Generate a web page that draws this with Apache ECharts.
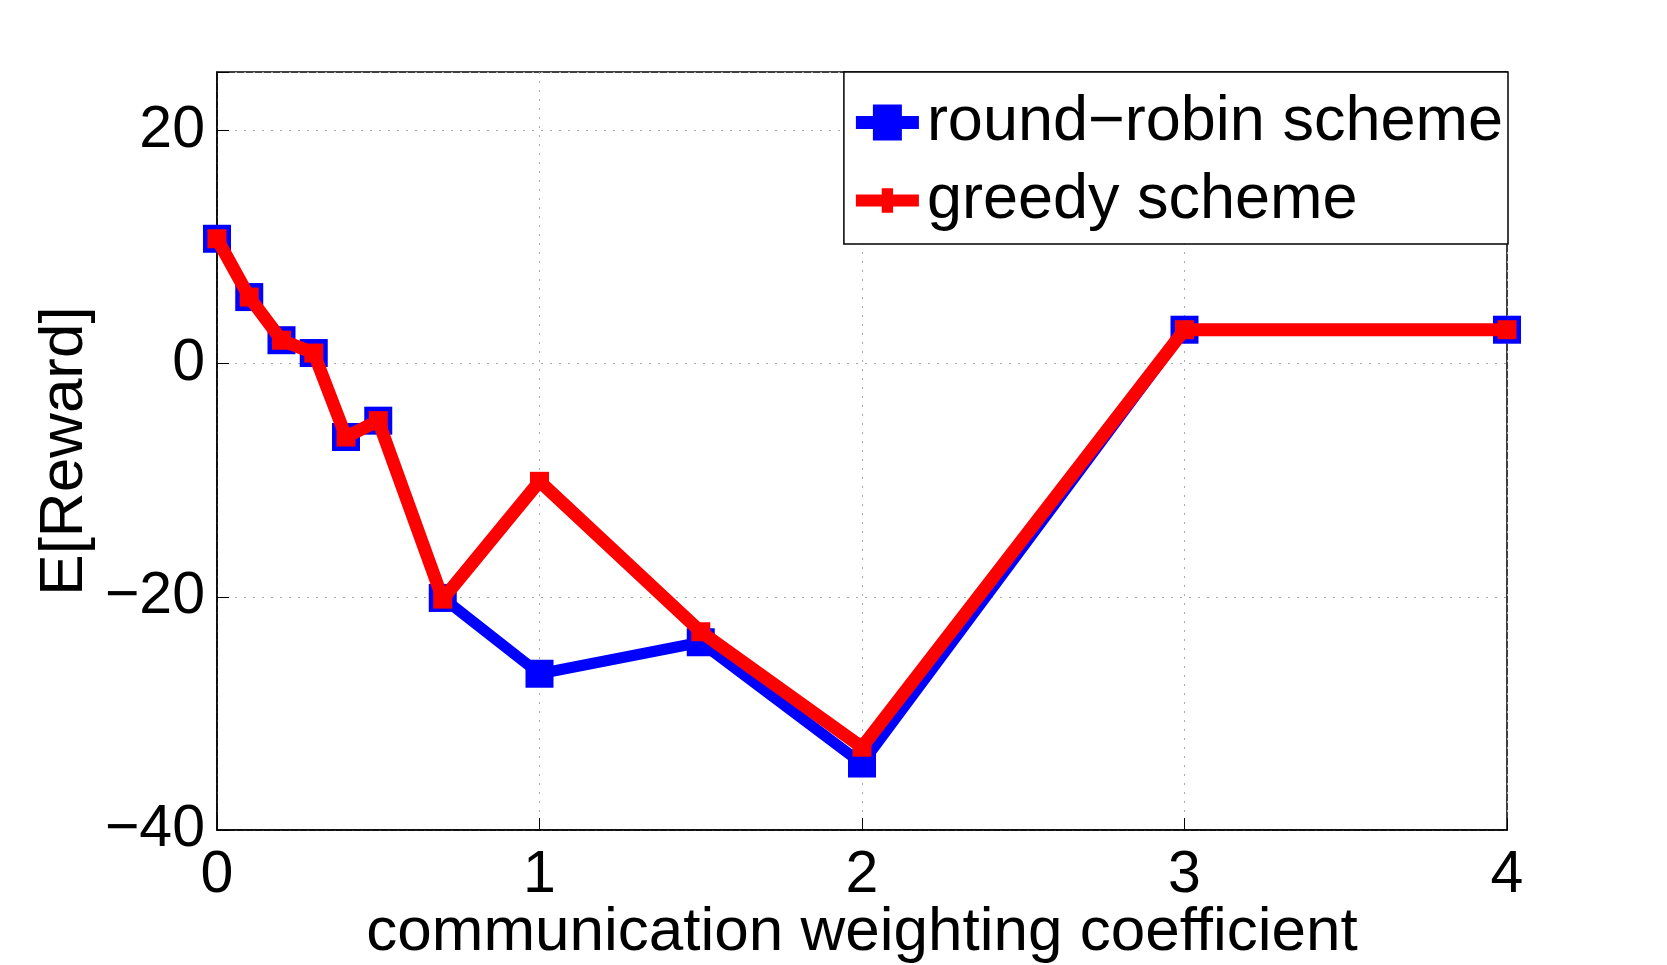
<!DOCTYPE html>
<html>
<head>
<meta charset="utf-8">
<script src="https://cdn.jsdelivr.net/npm/echarts@6/dist/echarts.min.js"></script>
<style>
  html, body { margin: 0; padding: 0; background: #fff; }
  #chart { width: 1667px; height: 965px; }
</style>
</head>
<body>
<div id="chart"></div>
<script>
// data
const xValues = [0, 0.1, 0.2, 0.3, 0.4, 0.5, 0.7, 1, 1.5, 2, 3, 4];
const roundRobin = [10.7, 5.7, 2.0, 0.9, -6.3, -4.9, -20.1, -26.6, -23.9, -34.3, 2.9, 2.9];
const greedy = [10.7, 5.7, 2.0, 0.9, -6.3, -4.9, -20.2, -10.1, -23.0, -32.9, 2.9, 2.9];
const seriesNames = ['round\u2212robin scheme', 'greedy scheme'];

const font = 'Liberation Sans, Arial, Helvetica, sans-serif';
const pair = (ys) => xValues.map((x, i) => [x, ys[i]]);
const minus = (v) => String(v).replace('-', '\u2212');

// legend icons: thick line with a square marker (the empty moves keep the box 0..100)
const blueIcon = 'path://M0,0 L0,0 M100,100 L100,100 M0,32 L27,32 L27,0 L73,0 L73,32 L100,32 L100,68 L73,68 L73,100 L27,100 L27,68 L0,68 Z';
const redIcon = 'path://M0,0 L0,0 M100,100 L100,100 M0,33 L41,33 L41,16 L59,16 L59,33 L100,33 L100,67 L59,67 L59,84 L41,84 L41,67 L0,67 Z';

const chart = echarts.init(document.getElementById('chart'));

const option = {
  animation: false,
  backgroundColor: '#fff',
  textStyle: { fontFamily: font },
  grid: {
    left: 217, right: 160, top: 72, bottom: 135,
    outerBoundsMode: 'none',
    show: true, borderColor: '#000', borderWidth: 1.5
  },
  legend: {
    orient: 'vertical',
    right: 159, top: 72,
    backgroundColor: '#fff',
    borderColor: '#000', borderWidth: 1.5, borderRadius: 0,
    padding: [19, 5, 12, 12],
    itemGap: 15,
    itemWidth: 63, itemHeight: 36,
    symbolKeepAspect: false,
    textStyle: { fontSize: 63, fontFamily: font, color: '#000', padding: [0, 0, 0, 3] },
    data: [
      { name: seriesNames[0], icon: blueIcon, itemStyle: { color: '#0000ff' } },
      { name: seriesNames[1], icon: redIcon, itemStyle: { color: '#ff0000' } }
    ]
  },
  xAxis: {
    type: 'value',
    min: 0, max: 4, interval: 1,
    name: 'communication weighting coefficient',
    nameLocation: 'middle',
    nameGap: 72,
    nameMoveOverlap: false,
    nameTextStyle: { fontSize: 62, color: '#000', fontFamily: font },
    axisLine: { onZero: false, lineStyle: { color: '#000', width: 1.5 } },
    axisTick: { inside: true, length: 12, lineStyle: { color: '#000' } },
    axisLabel: { fontSize: 59, color: '#000', margin: 16, fontFamily: font },
    splitLine: { lineStyle: { color: '#aaa', type: [2, 7], width: 1 } }
  },
  yAxis: {
    type: 'value',
    min: -40, max: 25, interval: 20,
    name: 'E[Reward]',
    nameLocation: 'middle',
    nameGap: 121,
    nameMoveOverlap: false,
    nameTextStyle: { fontSize: 62, color: '#000', fontFamily: font },
    axisLine: { onZero: false, lineStyle: { color: '#000', width: 1.5 } },
    axisTick: { inside: true, length: 12, lineStyle: { color: '#000' } },
    axisLabel: {
      fontSize: 59, color: '#000', margin: 12, fontFamily: font,
      formatter: (v) => (v === 25 ? '' : minus(v))
    },
    splitLine: { lineStyle: { color: '#aaa', type: [2, 7], width: 1 } }
  },
  series: [
    {
      name: seriesNames[0],
      type: 'line',
      data: pair(roundRobin),
      symbol: 'rect',
      symbolSize: 28,
      lineStyle: { color: '#0000ff', width: 11 },
      itemStyle: { color: '#0000ff' },
      z: 2
    },
    {
      name: seriesNames[1],
      type: 'line',
      data: pair(greedy),
      symbol: 'rect',
      symbolSize: 19,
      lineStyle: { color: '#ff0000', width: 13 },
      itemStyle: { color: '#ff0000' },
      z: 3
    }
  ]
};

chart.setOption(option);
</script>
</body>
</html>
